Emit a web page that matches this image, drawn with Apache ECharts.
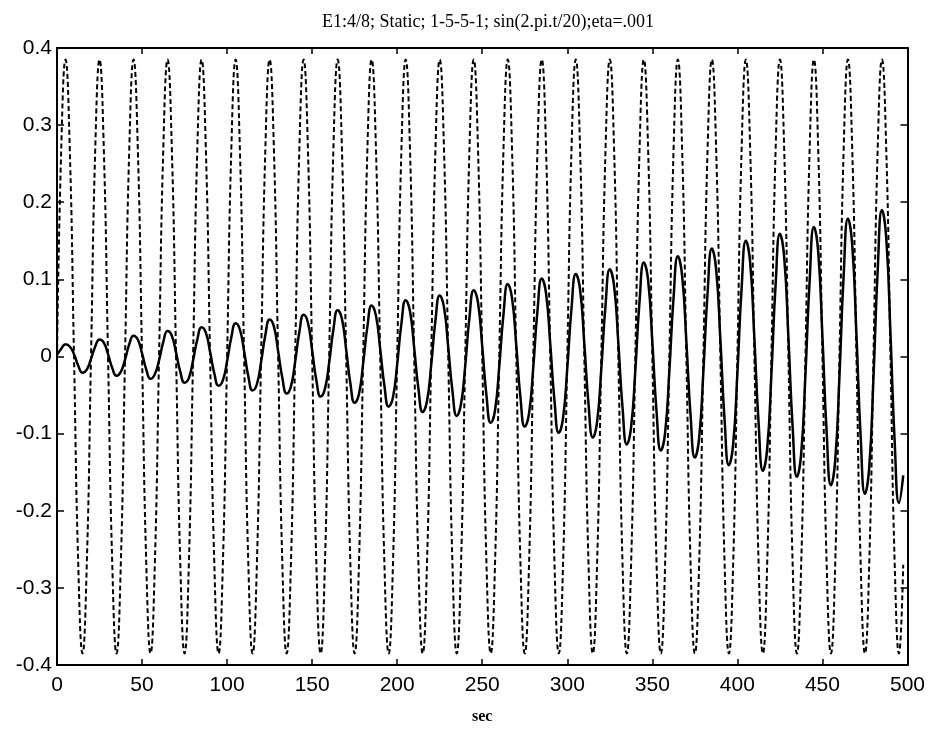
<!DOCTYPE html>
<html>
<head>
<meta charset="utf-8">
<title>E1:4/8 Static</title>
<script src="https://cdn.jsdelivr.net/npm/echarts@6/dist/echarts.min.js"></script>
<style>
  html, body { margin: 0; padding: 0; background: #fff; }
  #chart { width: 928px; height: 751px; }
</style>
</head>
<body>
<div id="chart"></div>
<script>
// sample spacing of the read-off values (sec)
var timeStep = 2.5

// dashed: target signal, one line per 20 s cycle
var targetValues = [
  0, 0.27, 0.385, 0.27, 0, -0.27, -0.385, -0.27,
  0, 0.27, 0.385, 0.27, 0, -0.27, -0.385, -0.27,
  0, 0.27, 0.385, 0.27, 0, -0.27, -0.385, -0.27,
  0, 0.27, 0.385, 0.27, 0, -0.27, -0.385, -0.27,
  0, 0.27, 0.385, 0.27, 0, -0.27, -0.385, -0.27,
  0, 0.27, 0.385, 0.27, 0, -0.27, -0.385, -0.27,
  0, 0.27, 0.385, 0.27, 0, -0.27, -0.385, -0.27,
  0, 0.27, 0.385, 0.27, 0, -0.27, -0.385, -0.27,
  0, 0.27, 0.385, 0.27, 0, -0.27, -0.385, -0.27,
  0, 0.27, 0.385, 0.27, 0, -0.27, -0.385, -0.27,
  0, 0.27, 0.385, 0.27, 0, -0.27, -0.385, -0.27,
  0, 0.27, 0.385, 0.27, 0, -0.27, -0.385, -0.27,
  0, 0.27, 0.385, 0.27, 0, -0.27, -0.385, -0.27,
  0, 0.27, 0.385, 0.27, 0, -0.27, -0.385, -0.27,
  0, 0.27, 0.385, 0.27, 0, -0.27, -0.385, -0.27,
  0, 0.27, 0.385, 0.27, 0, -0.27, -0.385, -0.27,
  0, 0.27, 0.385, 0.27, 0, -0.27, -0.385, -0.27,
  0, 0.27, 0.385, 0.27, 0, -0.27, -0.385, -0.27,
  0, 0.27, 0.385, 0.27, 0, -0.27, -0.385, -0.27,
  0, 0.27, 0.385, 0.27, 0, -0.27, -0.385, -0.27,
  0, 0.27, 0.385, 0.27, 0, -0.27, -0.385, -0.27,
  0, 0.27, 0.385, 0.27, 0, -0.27, -0.385, -0.27,
  0, 0.27, 0.385, 0.27, 0, -0.27, -0.385, -0.27,
  0, 0.27, 0.385, 0.27, 0, -0.27, -0.385, -0.27,
  0, 0.27, 0.385, 0.27, 0, -0.27, -0.385, -0.27
]

// solid: network output, growing slowly
var outputValues = [
  0.002, 0.010, 0.016, 0.013, 0.003, -0.012, -0.021, -0.017,
  -0.003, 0.013, 0.022, 0.018, 0.003, -0.015, -0.025, -0.020,
  -0.004, 0.016, 0.027, 0.022, 0.004, -0.017, -0.029, -0.023,
  -0.005, 0.019, 0.033, 0.027, 0.005, -0.020, -0.034, -0.028,
  -0.005, 0.022, 0.038, 0.031, 0.006, -0.022, -0.038, -0.031,
  -0.006, 0.025, 0.043, 0.035, 0.007, -0.026, -0.044, -0.036,
  -0.007, 0.028, 0.048, 0.039, 0.007, -0.028, -0.048, -0.039,
  -0.007, 0.032, 0.054, 0.044, 0.008, -0.031, -0.052, -0.042,
  -0.008, 0.035, 0.060, 0.049, 0.009, -0.035, -0.060, -0.049,
  -0.009, 0.039, 0.066, 0.053, 0.010, -0.038, -0.065, -0.053,
  -0.010, 0.043, 0.073, 0.059, 0.011, -0.042, -0.072, -0.058,
  -0.011, 0.047, 0.079, 0.064, 0.012, -0.045, -0.077, -0.062,
  -0.012, 0.051, 0.086, 0.070, 0.013, -0.051, -0.086, -0.070,
  -0.013, 0.055, 0.094, 0.076, 0.015, -0.054, -0.091, -0.074,
  -0.014, 0.060, 0.101, 0.082, 0.016, -0.058, -0.099, -0.080,
  -0.015, 0.063, 0.107, 0.087, 0.017, -0.062, -0.105, -0.085,
  -0.016, 0.067, 0.113, 0.092, 0.018, -0.067, -0.114, -0.092,
  -0.018, 0.072, 0.122, 0.099, 0.019, -0.072, -0.122, -0.099,
  -0.019, 0.077, 0.130, 0.105, 0.020, -0.077, -0.131, -0.106,
  -0.020, 0.083, 0.140, 0.113, 0.022, -0.083, -0.141, -0.114,
  -0.022, 0.089, 0.150, 0.122, 0.023, -0.087, -0.148, -0.120,
  -0.023, 0.094, 0.159, 0.129, 0.025, -0.092, -0.156, -0.126,
  -0.024, 0.099, 0.168, 0.136, 0.026, -0.099, -0.167, -0.135,
  -0.026, 0.106, 0.179, 0.145, 0.028, -0.105, -0.178, -0.144,
  -0.028, 0.112, 0.190, 0.154, 0.030, -0.112, -0.190, -0.154
]

var xTicks = [0, 50, 100, 150, 200, 250, 300, 350, 400, 450, 500]
var yTicks = [-0.4, -0.3, -0.2, -0.1, 0, 0.1, 0.2, 0.3, 0.4]

function pairs(values) {
  return values.map(function (v, i) { return [i * timeStep, v] })
}

var chart = echarts.init(document.getElementById('chart'))

var labelStyle = {
  color: '#000',
  fontSize: 21,
  fontFamily: 'Liberation Sans, Arial, sans-serif'
}
var lineStyle = { color: '#000', width: 2 }

var option = {
  backgroundColor: '#fff',
  animation: false,
  title: {
    text: 'E1:4/8; Static; 1-5-5-1; sin(2.pi.t/20);eta=.001',
    left: 483,
    textAlign: 'center',
    top: 8,
    textStyle: {
      color: '#000',
      fontSize: 18,
      fontWeight: 'normal',
      fontFamily: 'Liberation Serif, Times New Roman, serif'
    }
  },
  grid: {
    left: 57,
    right: 18,
    top: 48,
    bottom: 86
  },
  xAxis: [
    {
      type: 'value',
      min: xTicks[0],
      max: xTicks[xTicks.length - 1],
      interval: 50,
      name: 'sec',
      nameLocation: 'middle',
      nameGap: 44,
      nameTextStyle: {
        color: '#000',
        fontSize: 16,
        fontWeight: 'bold',
        fontFamily: 'Liberation Serif, Times New Roman, serif'
      },
      axisLine: { onZero: false, lineStyle: lineStyle },
      axisTick: { inside: true, length: 6, lineStyle: { color: '#000', width: 1.5 } },
      axisLabel: Object.assign({ margin: 10 }, labelStyle),
      splitLine: { show: false }
    },
    {
      type: 'value',
      position: 'top',
      min: xTicks[0],
      max: xTicks[xTicks.length - 1],
      interval: 50,
      axisLine: { onZero: false, lineStyle: lineStyle },
      axisTick: { inside: true, length: 6, lineStyle: { color: '#000', width: 1.5 } },
      axisLabel: { show: false },
      splitLine: { show: false }
    }
  ],
  yAxis: [
    {
      type: 'value',
      min: yTicks[0],
      max: yTicks[yTicks.length - 1],
      interval: 0.1,
      axisLine: { onZero: false, lineStyle: lineStyle },
      axisTick: { inside: true, length: 7, lineStyle: { color: '#000', width: 1.5 } },
      axisLabel: Object.assign({ margin: 5 }, labelStyle),
      splitLine: { show: false }
    },
    {
      type: 'value',
      position: 'right',
      min: yTicks[0],
      max: yTicks[yTicks.length - 1],
      interval: 0.1,
      axisLine: { onZero: false, lineStyle: lineStyle },
      axisTick: { inside: true, length: 7, lineStyle: { color: '#000', width: 1.5 } },
      axisLabel: { show: false },
      splitLine: { show: false }
    }
  ],
  series: [
    {
      name: 'target',
      type: 'line',
      data: pairs(targetValues),
      smooth: true,
      showSymbol: false,
      lineStyle: { color: '#000', width: 2, type: [5, 3] }
    },
    {
      name: 'output',
      type: 'line',
      data: pairs(outputValues),
      smooth: true,
      showSymbol: false,
      lineStyle: { color: '#000', width: 2.5 }
    }
  ]
}

chart.setOption(option)
</script>
</body>
</html>
